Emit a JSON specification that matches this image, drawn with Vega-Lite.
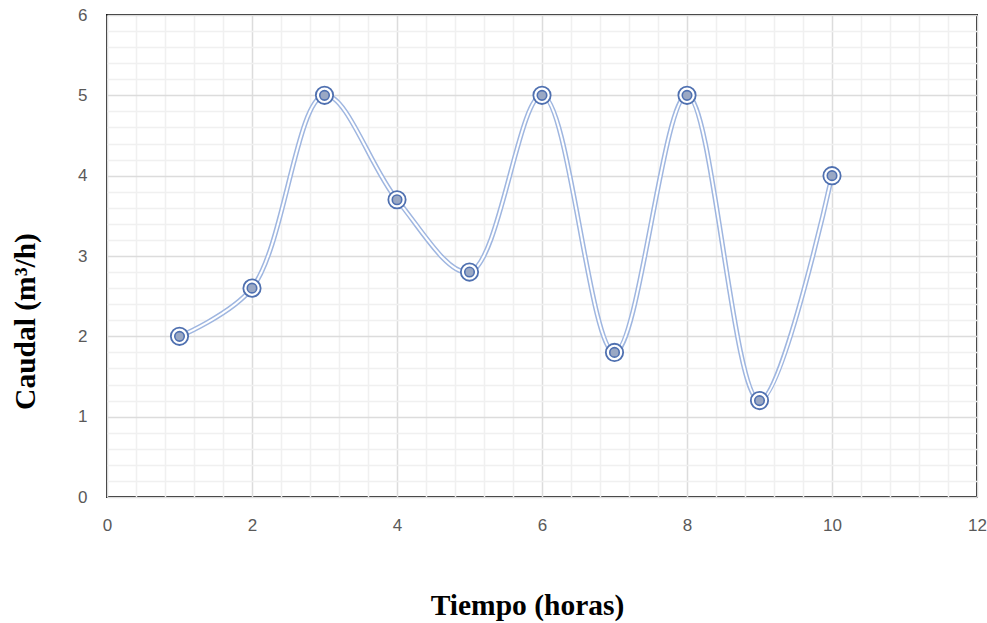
{
  "$schema": "https://vega.github.io/schema/vega-lite/v6.json",
  "width": 870,
  "height": 482,
  "autosize": "none",
  "padding": {"left": 107, "top": 15, "right": 10, "bottom": 126},
  "background": "white",
  "config": {
    "view": {"stroke": "#1a1a1a", "strokeWidth": 2},
    "axis": {"labelFont": "Liberation Sans", "labelColor": "#595959", "labelFontSize": 17, "ticks": false, "domain": false,
      "titleFont": "Liberation Serif", "titleFontSize": 29.5, "titleFontWeight": "bold", "titleColor": "#000000"}
  },
  "data": {"values": [
    {"t": 1, "q": 2},
    {"t": 2, "q": 2.6},
    {"t": 3, "q": 5},
    {"t": 4, "q": 3.7},
    {"t": 5, "q": 2.8},
    {"t": 6, "q": 5},
    {"t": 7, "q": 1.8},
    {"t": 8, "q": 5},
    {"t": 9, "q": 1.2},
    {"t": 10, "q": 4}
  ]},
  "encoding": {
    "x": {"field": "t", "type": "quantitative", "scale": {"domain": [0, 12], "nice": false},
      "axis": {"title": "Tiempo (horas)", "titleX": 420, "titleY": 108, "titleBaseline": "middle",
        "values": [0,0.4,0.8,1.2,1.6,2,2.4,2.8,3.2,3.6,4,4.4,4.8,5.2,5.6,6,6.4,6.8,7.2,7.6,8,8.4,8.8,9.2,9.6,10,10.4,10.8,11.2,11.6,12],
        "format": "~g",
        "labelExpr": "datum.value % 2 === 0 ? datum.label : ''", "labelPadding": 20, "labelFlush": false,
        "gridColor": {"condition": {"test": "datum.value % 2 === 0", "value": "#dcdcdc"}, "value": "#f0f0f0"},
        "gridWidth": 1.5}},
    "y": {"field": "q", "type": "quantitative", "scale": {"domain": [0, 6], "nice": false},
      "axis": {"title": "Caudal (m³/h)", "titleX": -82, "titleY": 306, "titleAngle": -90, "titleAlign": "center", "titleBaseline": "middle",
        "values": [0,0.2,0.4,0.6,0.8,1,1.2,1.4,1.6,1.8,2,2.2,2.4,2.6,2.8,3,3.2,3.4,3.6,3.8,4,4.2,4.4,4.6,4.8,5,5.2,5.4,5.6,5.8,6],
        "format": "~g",
        "labelExpr": "datum.value % 1 === 0 ? datum.label : ''", "labelPadding": 20, "labelFlush": false,
        "gridColor": {"condition": {"test": "datum.value % 1 === 0", "value": "#dcdcdc"}, "value": "#f0f0f0"},
        "gridWidth": 1.5}}
  },
  "layer": [
    {"mark": {"type": "line", "interpolate": "catmull-rom", "stroke": "#9fb6e0", "strokeWidth": 5}},
    {"mark": {"type": "line", "interpolate": "catmull-rom", "stroke": "#ffffff", "strokeWidth": 2}},
    {"mark": {"type": "point", "shape": "circle", "filled": false, "size": 300, "stroke": "#4f70b0", "strokeWidth": 1.8, "fill": "#ffffff", "fillOpacity": 1, "opacity": 1}},
    {"mark": {"type": "point", "shape": "circle", "filled": false, "size": 90, "stroke": "#4f70b0", "strokeWidth": 1.6, "fill": "#9aa8c4", "fillOpacity": 1, "opacity": 1}}
  ]
}
